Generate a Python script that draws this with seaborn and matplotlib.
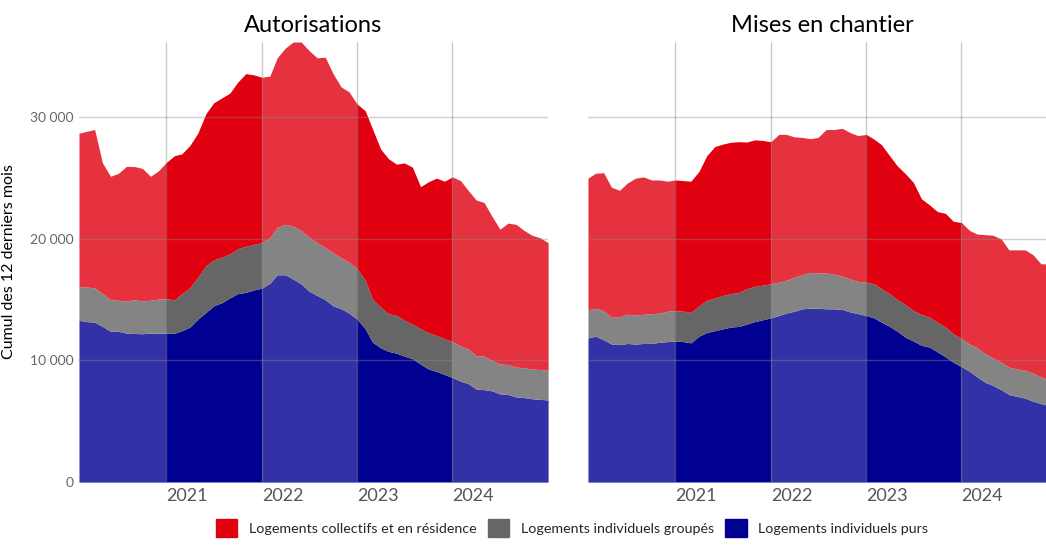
import numpy as np
import pandas as pd
import seaborn as sns
import matplotlib.pyplot as plt
from matplotlib.patches import Patch

# monthly points, rolling 12-month totals
months = pd.date_range("2020-02-01", periods=60, freq="MS")
year_starts = ["2021-01-01", "2022-01-01", "2023-01-01", "2024-01-01"]
year_labels = ["2021", "2022", "2023", "2024"]
series_names = ["Logements collectifs et en résidence", "Logements individuels groupés", "Logements individuels purs"]

# Autorisations
aut_purs = [13300, 13200, 13150, 12800, 12400, 12400, 12250, 12220, 12200, 12250,
            12250, 12250, 12250, 12450, 12750, 13400, 13950, 14500, 14750, 15150,
            15500, 15600, 15800, 15950, 16350, 17050, 17050, 16700, 16300, 15700,
            15350, 15000, 14500, 14250, 13900, 13400, 12600, 11500, 11050, 10750,
            10600, 10350, 10150, 9700, 9300, 9100, 8850, 8600, 8300, 8100,
            7650, 7600, 7500, 7250, 7200, 7000, 6950, 6850, 6800, 6750]
aut_groupes = [2780, 2850, 2820, 2700, 2600, 2550, 2650, 2780, 2700, 2700,
               2800, 2820, 2750, 3050, 3250, 3450, 3850, 3770, 3750, 3620,
               3700, 3800, 3750, 3750, 3750, 3900, 4150, 4350, 4400, 4450,
               4350, 4300, 4350, 4200, 4200, 4150, 4000, 3550, 3350, 3100,
               3100, 2950, 2850, 2900, 3000, 2950, 2950, 2950, 2900, 2850,
               2750, 2750, 2500, 2450, 2470, 2450, 2450, 2450, 2450, 2450]
aut_collectifs = [12620, 12800, 13030, 10750, 10150, 10450, 11070, 10950, 10900, 10200,
                  10550, 11230, 11850, 11500, 11700, 11850, 12500, 12930, 13100, 13230,
                  13700, 14200, 13950, 13600, 13300, 13950, 14500, 15150, 15500, 15350,
                  15200, 15650, 14750, 14050, 14000, 13550, 13950, 14000, 13000, 12750,
                  12450, 12950, 12900, 11700, 12400, 12950, 12950, 13550, 13600, 13050,
                  12800, 12650, 11850, 11100, 11630, 11750, 11300, 11000, 10850, 10500]

# Mises en chantier
mec_purs = [11850, 12000, 11700, 11350, 11300, 11400, 11350, 11400, 11400, 11500,
            11550, 11600, 11550, 11450, 12000, 12300, 12450, 12600, 12750, 12800,
            13000, 13200, 13350, 13500, 13700, 13900, 14050, 14250, 14300, 14300,
            14250, 14250, 14200, 14000, 13850, 13700, 13500, 13150, 12800, 12400,
            11900, 11600, 11250, 11100, 10700, 10300, 9850, 9500, 9100, 8650,
            8200, 7950, 7600, 7200, 7050, 6900, 6650, 6450, 6300]
mec_groupes = [2300, 2300, 2400, 2200, 2300, 2400, 2400, 2400, 2450, 2400,
               2500, 2500, 2500, 2500, 2500, 2650, 2700, 2750, 2750, 2800,
               2900, 2900, 2850, 2800, 2750, 2700, 2800, 2800, 2950, 2900,
               2950, 2850, 2750, 2700, 2650, 2750, 2800, 2750, 2700, 2600,
               2700, 2500, 2550, 2450, 2450, 2450, 2350, 2300, 2250, 2400,
               2350, 2250, 2250, 2250, 2250, 2300, 2300, 2200, 2100]
mec_collectifs = [10850, 11100, 11350, 10700, 10400, 10800, 11250, 11300, 11000, 10950,
                  10700, 10750, 10750, 10800, 11050, 11900, 12450, 12450, 12450, 12400,
                  12070, 12050, 11900, 11700, 12150, 12000, 11550, 11300, 11000, 11150,
                  11800, 11900, 12150, 12050, 12000, 12150, 11900, 11850, 11350, 11000,
                  10750, 10550, 9500, 9250, 9100, 9350, 9250, 9550, 9350, 9350,
                  9800, 10100, 10150, 9650, 9800, 9900, 9750, 9300, 9550]

col_purs = "#000091"
col_groupes = "#666666"
col_collectifs = "#E1000F"

sns.set_theme(style="white")
plt.rcParams['font.family'] = ['Lato', 'DejaVu Sans']

fig = plt.figure(figsize=(10.46, 5.47), dpi=100)
ax1 = fig.add_axes([0.0755, 0.1188, 0.4484, 0.8044])
ax2 = fig.add_axes([0.5621, 0.1188, 0.4484, 0.8044])


def draw_panel(ax, x, purs, groupes, collectifs, title):
    ax.stackplot(x, purs, groupes, collectifs,
                 colors=[col_purs, col_groupes, col_collectifs], linewidth=0, zorder=1)
    # lighter bands every other year
    starts = [pd.Timestamp(d) for d in year_starts]
    for a, b in [(months[0], starts[0]), (starts[1], starts[2]), (starts[3], months[-1])]:
        ax.axvspan(a, b, color="white", alpha=0.2, lw=0, zorder=2)
    for v in [10000, 20000, 30000]:
        ax.axhline(v, color="#8a8a8a", alpha=0.4, lw=1, zorder=3)
    for d in starts:
        ax.axvline(d, color="#8a8a8a", alpha=0.45, lw=1, zorder=3)
    ax.set_xlim(months[0], months[-1])
    ax.set_ylim(0, 36200)
    ax.set_xticks(starts)
    ax.set_xticklabels(year_labels, fontsize=13, color="#555555", ha="left")
    ax.set_yticks([0, 10000, 20000, 30000])
    ax.set_yticklabels(["0", "10 000", "20 000", "30 000"], fontsize=10, color="#666666")
    ax.tick_params(length=0, pad=4)
    ax.set_title(title, fontsize=17, color="black", pad=7)
    ax.set_xlabel("")
    sns.despine(ax=ax, left=True, bottom=True)
    ax.grid(False)


draw_panel(ax1, months, aut_purs, aut_groupes, aut_collectifs, "Autorisations")
draw_panel(ax2, months[:len(mec_purs)], mec_purs, mec_groupes, mec_collectifs, "Mises en chantier")
ax2.set_yticklabels([])
ax1.set_ylabel("Cumul des 12 derniers mois", fontsize=11.5, color="black", labelpad=10)

handles = [Patch(color=col_collectifs), Patch(color=col_groupes), Patch(color=col_purs)]
fig.legend(handles, series_names, loc="lower center", bbox_to_anchor=(0.547, -0.005), ncol=3,
           frameon=False, fontsize=10.3, handlelength=1.5, handleheight=1.5, columnspacing=0.8,
           handletextpad=0.8)

fig.savefig("out.png", dpi=100)
